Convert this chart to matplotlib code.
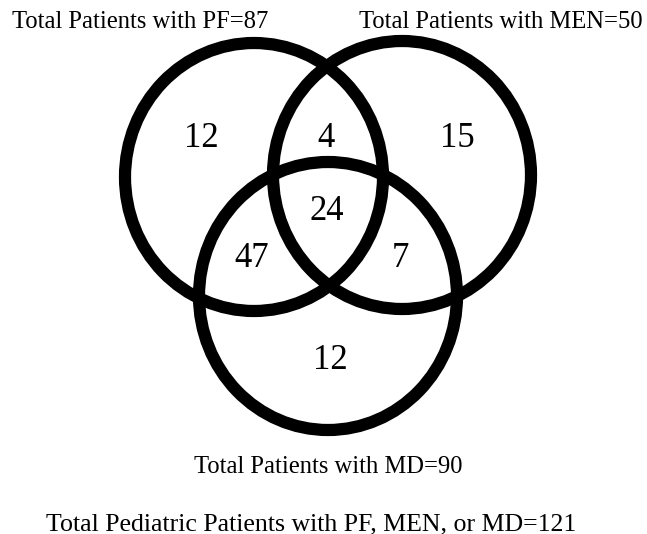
import matplotlib.pyplot as plt
from matplotlib.patches import Ellipse

# set names and totals
set_labels = ["Total Patients with PF=87", "Total Patients with MEN=50", "Total Patients with MD=90"]
total_label = "Total Pediatric Patients with PF, MEN, or MD=121"

# region counts: PF only, PF&MEN, MEN only, all three, PF&MD, MEN&MD, MD only
region_names = ["PF", "PF_MEN", "MEN", "ALL", "PF_MD", "MEN_MD", "MD"]
region_counts = [12, 4, 15, 24, 47, 7, 12]

# layout in pixel space (y down)
circle_xy = [(254, 177), (402, 175), (328, 296)]
circle_w, circle_h = 258, 268
count_xy = [(201, 147), (326, 147), (457, 147), (327, 220), (252, 267), (400, 267), (330, 369)]
label_xy = [(140, 28), (501, 28), (328, 473)]
total_xy = (311, 530)

fig = plt.figure(figsize=(6.47, 5.34), dpi=100)
ax = fig.add_axes([0, 0, 1, 1])
ax.set_xlim(0, 647)
ax.set_ylim(534, 0)
ax.axis("off")

for (cx, cy) in circle_xy:
    ax.add_patch(Ellipse((cx, cy), circle_w, circle_h, fill=False,
                         edgecolor="black", linewidth=8.8))

font = "Liberation Serif"
for n, (x, y) in zip(region_counts, count_xy):
    ax.text(x, y, str(n), ha="center", va="baseline", fontsize=25, family=font)

for lab, (x, y) in zip(set_labels, label_xy):
    ax.text(x, y, lab, ha="center", va="baseline", fontsize=17.7, family=font)

ax.text(total_xy[0], total_xy[1], total_label, ha="center", va="baseline",
        fontsize=18.6, family=font)

fig.savefig("out.png", dpi=100)
